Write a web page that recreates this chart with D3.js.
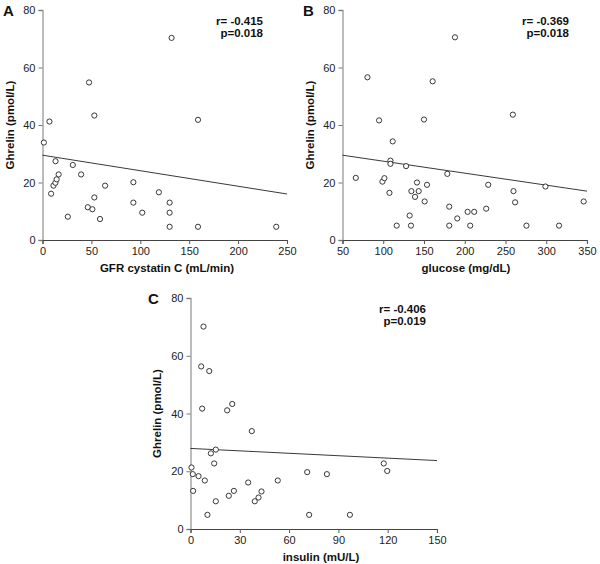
<!DOCTYPE html>
<html><head><meta charset="utf-8">
<script src="https://cdn.jsdelivr.net/npm/d3@7"></script>
<style>body{margin:0;background:#fff}svg{display:block;font-family:"Liberation Sans",Arial,sans-serif}</style>
</head><body>
<svg id="c" width="600" height="564"></svg>
<script>
// Panel A: GFR cystatin C vs ghrelin
const gfrX = [1.4,7.1,13.3,8.8,11.2,13.2,14.5,16.5,31,39.5,25.9,47.6,53,53,46.3,51,58.8,64,92.9,92.9,102,119,132,130,130,130,159,159,239];
const gfrY = [33.9,41.2,27.4,16.1,18.9,19.9,21.1,22.8,26.1,22.8,8.1,54.8,43.3,14.8,11.4,10.7,7.3,18.9,20.1,13.0,9.5,16.6,70.3,13.0,9.5,4.6,41.8,4.6,4.6];
const gfrLine = [[0,29.5],[250,16.0]];
const gfrTicks = [0,50,100,150,200,250];
// Panel B: glucose vs ghrelin
const gluX = [66.3,80.6,94.9,99,101.4,107.6,108.8,108.8,111.6,116.5,128,132.4,134,134.5,139,141.4,143.5,150,150.8,153.7,160.6,178.6,181,181,188,190.8,203.5,206.7,211.6,226.3,228.8,259,259.8,261.8,275.7,299,315.7,345.9];
const gluY = [21.6,56.6,41.6,20.3,21.5,16.4,27.6,26.5,34.3,5.0,25.7,8.5,5.0,17.0,15.0,20.0,17.0,41.9,13.4,19.2,55.2,23.0,11.6,5.0,70.5,7.5,9.8,5.0,9.8,10.9,19.2,43.6,17.0,13.1,5.0,18.6,5.0,13.4];
const gluLine = [[50,29.5],[350,17.0]];
const gluTicks = [50,100,150,200,250,300,350];
// Panel C: insulin vs ghrelin
const insX = [0.6,1.4,1.6,4.9,6.5,7.1,7.9,8.7,10.3,11.4,12.4,14.4,15.4,15.4,22.3,23.3,25.4,26.4,35.1,37.3,39.1,41.4,43.2,53.1,71.0,72.2,83,97,117.6,119.7];
const insY = [21.3,19.0,13.2,18.3,56.3,41.7,70.1,16.8,4.9,54.7,26.2,22.7,27.5,9.6,41.1,11.5,43.3,13.2,16.1,33.9,9.6,10.9,13.0,16.8,19.7,4.9,19.0,4.9,22.7,20.1];
const insLine = [[0,27.9],[150,23.7]];
const insTicks = [0,30,60,90,120,150];
const yTicks = [0,20,40,60,80];

const svg = d3.select("#c");

function panel(o){
  const x = d3.scaleLinear().domain(o.xd).range([o.x0,o.x1]);
  const y = d3.scaleLinear().domain([0,80]).range([o.y0,o.y1]);
  const g = svg.append("g");
  // y axis
  const ya = g.append("g").attr("transform",`translate(${o.x0},0)`)
    .call(d3.axisLeft(y).tickValues(yTicks).tickSize(4).tickPadding(3));
  ya.select(".domain").attr("stroke","#999").attr("stroke-width",1.3);
  ya.selectAll(".tick line").attr("stroke","#777");
  ya.selectAll("text").attr("font-size",11).attr("fill","#222").attr("font-family","Liberation Sans, Arial, sans-serif");
  // x axis
  const xa = g.append("g").attr("transform",`translate(0,${o.y0})`)
    .call(d3.axisBottom(x).tickValues(o.ticks).tickSize(4).tickPadding(3));
  xa.select(".domain").attr("stroke","#444").attr("stroke-width",1.1);
  xa.selectAll(".tick line").attr("stroke","#555");
  xa.selectAll("text").attr("font-size",11).attr("fill","#222").attr("font-family","Liberation Sans, Arial, sans-serif");
  // regression line
  g.append("path").datum(o.line)
    .attr("d",d3.line().x(d=>x(d[0])).y(d=>y(d[1])))
    .attr("stroke","#222").attr("stroke-width",0.9).attr("fill","none");
  // points
  g.selectAll("circle").data(o.xs.map((v,i)=>[v,o.ys[i]])).join("circle")
    .attr("cx",d=>x(d[0])).attr("cy",d=>y(d[1])).attr("r",2.6)
    .attr("fill","#fff").attr("stroke","#222").attr("stroke-width",0.9);
  // titles
  g.append("text").attr("transform",`translate(${o.ytx},${(o.y0+o.y1)/2}) rotate(-90)`)
    .attr("text-anchor","middle").attr("font-size",11.5).attr("font-weight","bold").attr("fill","#111")
    .text("Ghrelin (pmol/L)");
  g.append("text").attr("x",o.xtx).attr("y",o.y0+31.5).attr("text-anchor","middle")
    .attr("font-size",11.5).attr("font-weight","bold").attr("fill","#111").text(o.xtitle);
  g.append("text").attr("x",o.rx).attr("y",o.y1+15).attr("text-anchor","end")
    .attr("font-size",11.5).attr("font-weight","bold").attr("fill","#111").text(o.r);
  g.append("text").attr("x",o.rx).attr("y",o.y1+27).attr("text-anchor","end")
    .attr("font-size",11.5).attr("font-weight","bold").attr("fill","#111").text(o.p);
  g.append("text").attr("x",o.lx).attr("y",o.y1+6).attr("font-size",15).attr("font-weight","bold")
    .attr("fill","#111").text(o.letter);
}

panel({xd:[0,250],x0:42.5,x1:287,y0:240,y1:10,ticks:gfrTicks,xs:gfrX,ys:gfrY,line:gfrLine,
  ytx:14,xtx:167,xtitle:"GFR cystatin C (mL/min)",rx:263,r:"r= -0.415",p:"p=0.018",lx:3,letter:"A"});
panel({xd:[50,350],x0:342.5,x1:587,y0:240,y1:10,ticks:gluTicks,xs:gluX,ys:gluY,line:gluLine,
  ytx:314,xtx:466,xtitle:"glucose (mg/dL)",rx:569,r:"r= -0.369",p:"p=0.018",lx:303,letter:"B"});
panel({xd:[0,150],x0:190.5,x1:437,y0:529,y1:298,ticks:insTicks,xs:insX,ys:insY,line:insLine,
  ytx:161,xtx:321,xtitle:"insulin (mU/L)",rx:426,r:"r= -0.406",p:"p=0.019",lx:148,letter:"C"});
</script>
</body></html>
